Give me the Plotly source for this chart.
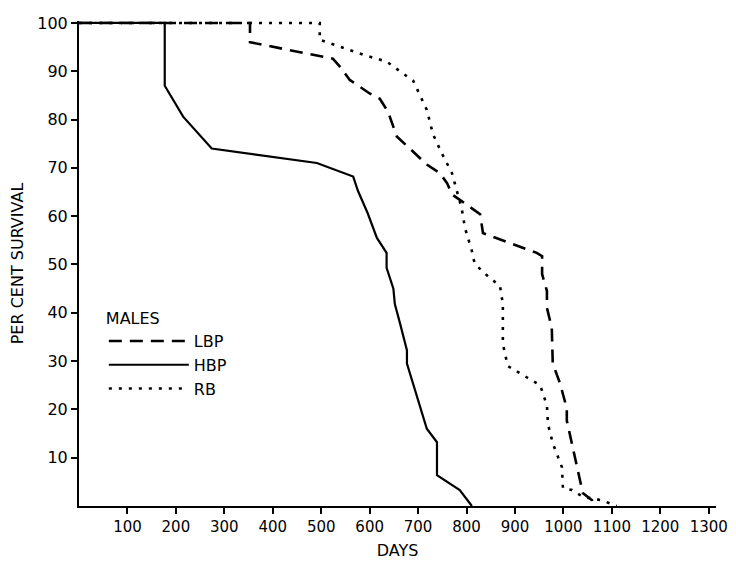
import plotly.graph_objects as go

# ---- data ----
lbp_days = [0, 353, 353, 524, 539, 559, 600, 621, 638, 656, 718, 745, 760, 770, 790, 828, 834,
            945, 956, 956, 966, 966, 976, 978, 993, 1007, 1007, 1028, 1040, 1059, 1061]
lbp_pct = [100, 100, 96, 92.6, 90.9, 88.2, 85.4, 84.3, 81.6, 76.5, 70.7, 68.9, 66.8, 64.5, 63.1, 60.4, 56.5,
           52.4, 51.7, 48, 44.5, 41, 36.9, 29.5, 25.4, 20.2, 17.7, 8, 2.7, 1.2, 0]

hbp_days = [0, 177, 177, 215, 274, 491, 566, 576, 596, 615, 635, 635, 649, 652, 663, 677, 677,
            700, 718, 739, 739, 786, 811]
hbp_pct = [100, 100, 87, 80.6, 74, 71, 68.2, 65.2, 60.6, 55.5, 52.4, 49.3, 45, 41.8, 37.7, 32.2, 29.5,
           21.9, 16, 13.2, 6.4, 3.3, 0]

rb_days = [0, 497, 497, 587, 635, 690, 718, 731, 749, 770, 790, 797, 803, 811, 817, 832, 848, 869,
           875, 875, 885, 925, 952, 966, 968, 978, 997, 999, 1018, 1040, 1079, 1110]
rb_pct = [100, 100, 96.5, 93.4, 92, 88, 82, 76.9, 73, 68.9, 61.6, 57.5, 55.5, 52.8, 50.1, 48.7, 47.2, 45.6,
          41.8, 33.6, 29, 26.6, 25, 20.8, 17, 13, 8, 3.7, 3.3, 1.9, 1.2, 0]

x_ticks = [100, 200, 300, 400, 500, 600, 700, 800, 900, 1000, 1100, 1200, 1300]
y_ticks = [10, 20, 30, 40, 50, 60, 70, 80, 90, 100]

FONT = "DejaVu Sans"

fig = go.Figure()
fig.add_trace(go.Scatter(x=lbp_days, y=lbp_pct, mode="lines", name="LBP",
                         line=dict(color="black", width=2.6, dash="13px,8px")))
fig.add_trace(go.Scatter(x=hbp_days, y=hbp_pct, mode="lines", name="HBP",
                         line=dict(color="black", width=2.2)))
fig.add_trace(go.Scatter(x=rb_days, y=rb_pct, mode="lines", name="RB",
                         line=dict(color="black", width=2.6, dash="3px,7px")))

# the page body adds an 8px margin, so the figure is 8px smaller than the window
fig.update_layout(
    width=728, height=553,
    margin=dict(l=71, r=20, t=13, b=55, autoexpand=False),
    paper_bgcolor="white", plot_bgcolor="white",
    font=dict(family=FONT, size=15, color="black"),
    showlegend=True,
    legend=dict(
        x=0.039, y=0.418, xanchor="left", yanchor="top",
        title=dict(text="MALES", font=dict(size=16)),
        font=dict(size=16),
        itemwidth=80,
        bgcolor="rgba(0,0,0,0)",
        tracegroupgap=0,
    ),
    xaxis=dict(
        range=[0, 1315], tickvals=x_ticks, ticktext=[str(v) for v in x_ticks],
        showgrid=False, zeroline=False, showline=True, linecolor="black", linewidth=2,
        ticks="outside", ticklen=6, tickwidth=1.5, tickcolor="black",
        tickfont=dict(size=15), automargin=False,
        title=dict(text="DAYS", font=dict(size=16), standoff=10),
    ),
    yaxis=dict(
        range=[0, 100.4], tickvals=y_ticks, ticktext=[str(v) for v in y_ticks],
        showgrid=False, zeroline=False, showline=True, linecolor="black", linewidth=2,
        ticks="outside", ticklen=6, tickwidth=1.5, tickcolor="black",
        tickfont=dict(size=16), automargin=False,
        title=dict(text="PER CENT SURVIVAL", font=dict(size=16), standoff=10),
    ),
)

fig.write_html("out.html")
